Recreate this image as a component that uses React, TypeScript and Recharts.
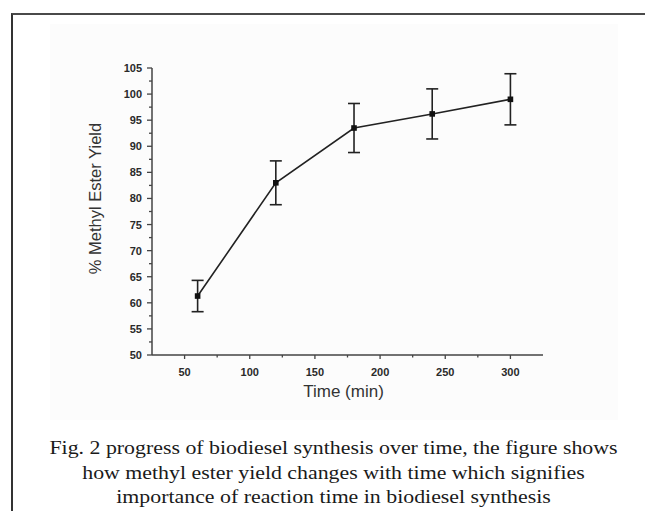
import React from 'react';
import { LineChart, Line, XAxis, YAxis, ErrorBar, Label } from 'recharts';

// reaction time (min) vs methyl ester yield (%)
const times = [60, 120, 180, 240, 300];
const yieldPct = [61.3, 83.0, 93.5, 96.2, 99.0];
const yieldErr = [3.0, 4.2, 4.7, 4.8, 4.9];

const xTicks = [50, 75, 100, 125, 150, 175, 200, 225, 250, 275, 300];
const yTicks = [50, 52.5, 55, 57.5, 60, 62.5, 65, 67.5, 70, 72.5, 75, 77.5, 80, 82.5, 85, 87.5, 90, 92.5, 95, 97.5, 100, 102.5, 105];

const captionLines = [
  'Fig. 2 progress of biodiesel synthesis over time, the figure shows',
  'how methyl ester yield changes with time which signifies',
  'importance of reaction time in biodiesel synthesis',
];

const data = times.map((t, i) => ({ time: t, yield: yieldPct[i], err: yieldErr[i] }));

const tickFont = { fontFamily: 'Liberation Sans, Arial, sans-serif', fontSize: 11, fontWeight: 700, fill: '#2a2a2a' };

const YTick = (props: any) => {
  const { x, y, payload } = props;
  const v = payload.value;
  const major = v % 5 === 0;
  const ax = x + 10;
  return (
    <g>
      <line x1={ax - (major ? 5 : 3)} x2={ax} y1={y} y2={y} stroke="#444" strokeWidth={1.3} />
      {major && (
        <text x={x} y={y} dy={4} textAnchor="end" style={tickFont}>
          {v}
        </text>
      )}
    </g>
  );
};

const XTick = (props: any) => {
  const { x, y, payload } = props;
  const v = payload.value;
  const major = v % 50 === 0;
  const ay = y - 12;
  return (
    <g>
      <line x1={x} x2={x} y1={ay} y2={ay + (major ? 4 : 2.5)} stroke="#444" strokeWidth={1.3} />
      {major && (
        <text x={x} y={y} dy={9} textAnchor="middle" style={tickFont}>
          {v}
        </text>
      )}
    </g>
  );
};

const SquareDot = (props: any) => {
  const { cx, cy, index } = props;
  if (cx == null || cy == null) return null;
  return <rect key={`d-${index}`} x={cx - 2.8} y={cy - 2.8} width={5.6} height={5.6} fill="#111" />;
};

const App: React.FC = () => {
  return (
    <div style={{ position: 'absolute', left: 0, top: 0, width: 645, height: 511, overflow: 'hidden', background: '#fff' }}>
      {/* page frame */}
      <div style={{ position: 'absolute', left: 11, top: 13, width: 700, height: 600, borderTop: '2px solid #4a4a4a', borderLeft: '2px solid #333' }} />
      {/* figure panel */}
      <div style={{ position: 'absolute', left: 50, top: 24, width: 568, height: 396, background: '#fcfcfc' }} />

      <div style={{ position: 'absolute', left: 0, top: 0 }}>
        <LineChart width={645} height={420} data={data} margin={{ top: 68, right: 102, left: 100, bottom: 25 }}>
          <XAxis
            dataKey="time"
            type="number"
            domain={[25, 325]}
            ticks={xTicks}
            interval={0}
            tickSize={0}
            tickMargin={12}
            tickLine={false}
            tick={<XTick />}
            height={40}
            axisLine={{ stroke: '#444', strokeWidth: 1.5 }}
          >
            <Label
              value="Time (min)"
              position="insideBottom"
              offset={-2}
              dx={-4}
              style={{ fontFamily: 'Liberation Sans, Arial, sans-serif', fontSize: 17, fill: '#333' }}
            />
          </XAxis>
          <YAxis
            type="number"
            domain={[50, 105]}
            ticks={yTicks}
            interval={0}
            tickSize={0}
            tickMargin={10}
            tickLine={false}
            tick={<YTick />}
            width={52}
            axisLine={{ stroke: '#444', strokeWidth: 1.5 }}
          >
            <Label
              value="% Methyl Ester Yield"
              angle={-90}
              position="insideLeft"
              offset={-5}
              dy={-13}
              style={{ textAnchor: 'middle', fontFamily: 'Liberation Sans, Arial, sans-serif', fontSize: 16.5, fill: '#333' }}
            />
          </YAxis>
          <Line
            type="linear"
            dataKey="yield"
            stroke="#222"
            strokeWidth={1.6}
            dot={<SquareDot />}
            activeDot={false}
            isAnimationActive={false}
          >
            <ErrorBar dataKey="err" direction="y" width={6} stroke="#222" strokeWidth={1.6} />
          </Line>
        </LineChart>
      </div>

      <div
        style={{
          position: 'absolute',
          left: 0,
          top: 436,
          width: 667,
          textAlign: 'center',
          fontFamily: '"Liberation Serif", "Times New Roman", serif',
          fontSize: 18,
          lineHeight: '24.5px',
          color: '#1a1a1a',
          transform: 'scaleX(1.214)',
          transformOrigin: '333.5px 0',
        }}
      >
        {captionLines.map((l) => (
          <div key={l} style={{ whiteSpace: 'nowrap' }}>{l}</div>
        ))}
      </div>
    </div>
  );
};

export default App;
